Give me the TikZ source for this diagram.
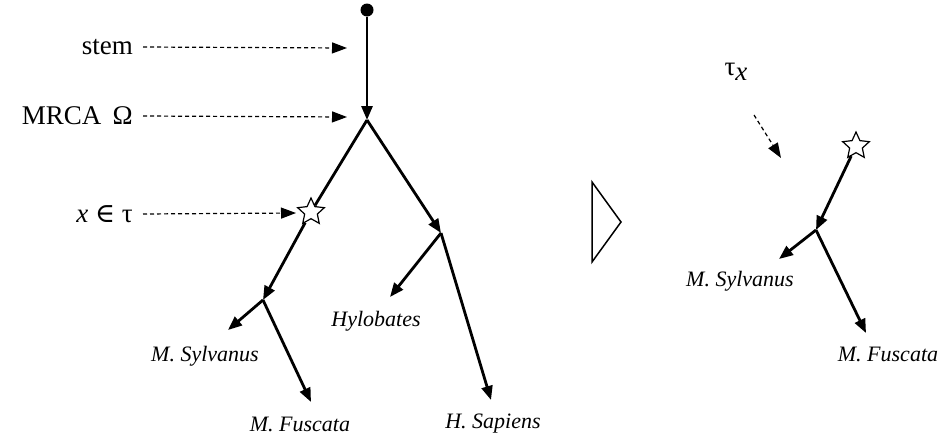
\documentclass[tikz,border=0pt]{standalone}
\usepackage{fontspec}
\setmainfont{Liberation Serif}
\newfontfamily\symfont{DejaVu Serif}
\usetikzlibrary{arrows.meta,shapes.geometric}

\begin{document}
\begin{tikzpicture}[x=1pt,y=-1pt,
  branch/.style={line width=2.8pt},
  arr/.style={branch, -{Triangle[length=14pt,width=11pt]}},
  pointer/.style={line width=1.2pt, dash pattern=on 4pt off 3pt,
                  -{Triangle[length=15pt,width=11pt]}},
  lbl/.style={font=\fontsize{27}{31}\selectfont, inner sep=0pt},
  taxon/.style={font=\fontsize{22}{26}\selectfont\itshape, inner sep=0pt},
  fossil/.style={star, star points=5, star point ratio=2.1, draw, fill=white,
                 line width=1.2pt, minimum size=28pt, inner sep=0pt}
]
\useasboundingbox (0,0) rectangle (949,445);

% left tree
\node[circle, fill, minimum size=13pt, inner sep=0pt] (root) at (367,10) {};
\coordinate (mrca) at (367,120);
\node[fossil] (x1) at (311,212) {};
\coordinate (n1) at (263,300);
\coordinate (n2) at (441,233);
\coordinate (syl1) at (228,330);
\coordinate (fus1) at (311,402);
\coordinate (hyl) at (390,297);
\coordinate (sap) at (491,400);

\draw[arr] (root) -- (mrca);
\draw[branch] (mrca) -- (x1);
\draw[arr] (mrca) -- (n2);
\draw[arr] (x1) -- (n1);
\draw[arr] (n1) -- (syl1);
\draw[arr] (n1) -- (fus1);
\draw[arr] (n2) -- (hyl);
\draw[arr] (n2) -- (sap);

\node[taxon] (tsyl1) at (205,356) {M. Sylvanus};
\node[taxon] (tfus1) at (300,424) {M. Fuscata};
\node[taxon] (thyl) at (376,321) {Hylobates};
\node[taxon] (tsap) at (493,424) {H. Sapiens};

% labels on the left
\node[lbl, anchor=east] (lstem) at (133,47) {stem};
\node[lbl, anchor=east] (lmrca) at (133,116) {MRCA \,Ω};
\node[lbl, anchor=east] (lx) at (133,214) {\textit{x} {\symfont ∈} τ};
\coordinate (pstem) at (347,48);
\coordinate (pmrca) at (347,117);
\coordinate (px) at (296,213);
\draw[pointer] ([xshift=10pt]lstem.east) -- (pstem);
\draw[pointer] ([xshift=10pt]lmrca.east) -- (pmrca);
\draw[pointer] ([xshift=10pt]lx.east) -- (px);

% triangle
\draw[line width=1.5pt, line join=miter] (592,182) -- (592,262) -- (621,222) -- cycle;

% right tree
\node[fossil] (x2) at (856,146) {};
\coordinate (n3) at (816,230);
\coordinate (syl2) at (779,259);
\coordinate (fus2) at (866,333);
\draw[arr] (x2) -- (n3);
\draw[arr] (n3) -- (syl2);
\draw[arr] (n3) -- (fus2);
\node[taxon] (tsyl2) at (740,281) {M. Sylvanus};
\node[taxon] (tfus2) at (888,354) {M. Fuscata};

\node[lbl] (ltau) at (736,72) {τ\raisebox{-0.45ex}{\textit{x}}};
\coordinate (ptau0) at (754,115);
\coordinate (ptau) at (781,158);
\draw[pointer] (ptau0) -- (ptau);
\end{tikzpicture}
\end{document}
